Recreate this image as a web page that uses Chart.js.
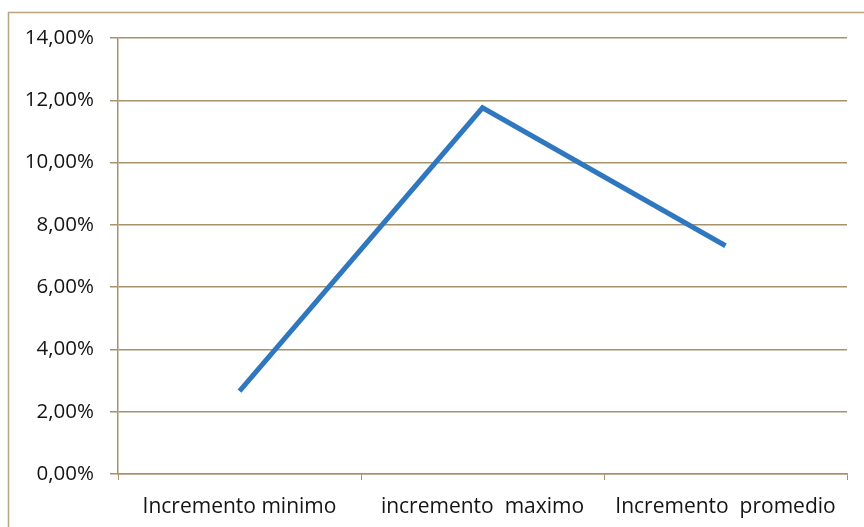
<!DOCTYPE html>
<html>
<head>
<meta charset="utf-8">
<script src="https://cdn.jsdelivr.net/npm/chart.js@4"></script>
<style>
  html, body { margin: 0; padding: 0; background: #fff; }
  #wrap { position: relative; width: 864px; height: 527px; }
</style>
</head>
<body>
<div id="wrap"><canvas id="chart" width="864" height="527"></canvas></div>
<script>
// chart data
var categories = ["Incremento minimo", "incremento  maximo", "Incremento  promedio"];
var increments = [2.66, 11.76, 7.33];   // percent
var yTicks = [0, 2, 4, 6, 8, 10, 12, 14];

var gridColor = "#a8926c";
var textColor = "#141414";

// outer frame, like the spreadsheet chart border
var framePlugin = {
  id: "frame",
  beforeDraw: function(chart) {
    var ctx = chart.ctx;
    ctx.save();
    ctx.strokeStyle = "#b9a47e";
    ctx.lineWidth = 1.5;
    ctx.strokeRect(8.5, 12.5, 900, 600);
    ctx.restore();
  }
};

var canvas = document.getElementById("chart");
var chart = new Chart(canvas, {
  type: "line",
  data: {
    labels: categories,
    datasets: [{
      data: increments,
      borderColor: "#2f78c0",
      borderWidth: 5,
      pointRadius: 0,
      tension: 0,
      fill: false
    }]
  },
  options: {
    responsive: false,
    animation: false,
    layout: { padding: { left: 0, top: 38, right: 17, bottom: 0 } },
    plugins: {
      legend: { display: false },
      tooltip: { enabled: false }
    },
    scales: {
      x: {
        offset: true,
        afterFit: function(scale) { scale.height = 53; },
        grid: {
          offset: true,
          drawOnChartArea: false,
          tickLength: 6,
          color: gridColor
        },
        border: { color: gridColor, width: 1.5 },
        ticks: {
          color: textColor,
          padding: 14,
          maxRotation: 0,
          font: { family: "Open Sans", size: 21 }
        }
      },
      y: {
        min: 0,
        max: 14,
        afterFit: function(scale) { scale.width = 118; },
        afterBuildTicks: function(scale) {
          scale.ticks = yTicks.map(function(v) { return { value: v }; });
        },
        grid: {
          color: gridColor,
          lineWidth: 1.5,
          tickLength: 8
        },
        border: { color: gridColor, width: 1.5 },
        ticks: {
          color: textColor,
          padding: 16,
          font: { family: "Open Sans", size: 20.5 },
          callback: function(v) { return v.toFixed(2).replace(".", ",") + "%"; }
        }
      }
    }
  },
  plugins: [framePlugin]
});
</script>
</body>
</html>
